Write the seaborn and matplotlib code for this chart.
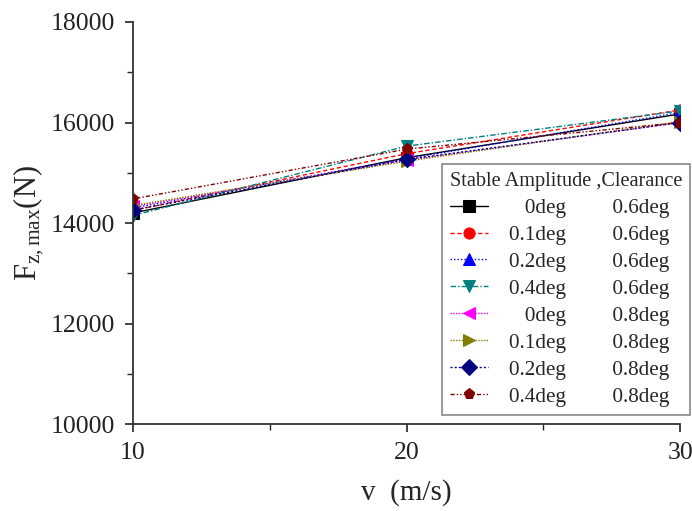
import matplotlib
matplotlib.use("Agg")
import matplotlib.pyplot as plt
from matplotlib.ticker import MultipleLocator
import seaborn as sns
import pandas as pd

speeds = [10, 20, 30]
amplitudes = ["0deg", "0.1deg", "0.2deg", "0.4deg", "0deg", "0.1deg", "0.2deg", "0.4deg"]
clearances = ["0.6deg", "0.6deg", "0.6deg", "0.6deg", "0.8deg", "0.8deg", "0.8deg", "0.8deg"]
s_0_06 = [14200, 15300, 16170]
s_01_06 = [14250, 15380, 16250]
s_02_06 = [14300, 15280, 16200]
s_04_06 = [14150, 15530, 16230]
s_0_08 = [14330, 15250, 16000]
s_01_08 = [14350, 15230, 16020]
s_02_08 = [14260, 15265, 16000]
s_04_08 = [14480, 15470, 16000]
series = [s_0_06, s_01_06, s_02_06, s_04_06, s_0_08, s_01_08, s_02_08, s_04_08]

colors = ["black", "red", "blue", "#008080", "magenta", "#808000", "#000080", "#800000"]
markers = ["s", "o", "^", "v", "<", ">", "D", "p"]
lstyles = ["-", (0, (3, 2)), (0, (1, 1.5)), (0, (4, 1.5, 1, 1.5)), (0, (1, 1)),
           (0, (1, 1)), (0, (1.5, 1.5)), (0, (3, 1.5, 1, 1.5, 1, 1.5))]

sns.set_style("white")
plt.rcParams['font.family'] = ['Liberation Serif', 'DejaVu Serif']
plt.rcParams['mathtext.fontset'] = 'custom'
plt.rcParams['mathtext.rm'] = 'Liberation Serif'
plt.rcParams['mathtext.it'] = 'Liberation Serif'

fig = plt.figure(figsize=(6.92, 5.11), dpi=100)
ax = fig.add_axes([0.192, 0.170, 0.791, 0.787])

rows = []
for i, s in enumerate(series):
    for v, f in zip(speeds, s):
        rows.append({"v": v, "F": f, "id": i})
df = pd.DataFrame(rows)

for i in range(len(series)):
    a, c = amplitudes[i], clearances[i]
    a_txt = ("\u2007\u2008" + a) if a == "0deg" else a
    label = f"{a_txt}\u2003\u2003\u2009{c}"
    sns.lineplot(data=df[df["id"] == i], x="v", y="F", ax=ax, color=colors[i],
                 marker=markers[i], markersize=8, markeredgecolor=colors[i],
                 linestyle=lstyles[i], linewidth=1.0, label=label,
                 errorbar=None)

ax.set_xlim(10, 30)
ax.set_ylim(10000, 18000)
ax.xaxis.set_major_locator(MultipleLocator(10))
ax.xaxis.set_minor_locator(MultipleLocator(5))
ax.yaxis.set_major_locator(MultipleLocator(2000))
ax.yaxis.set_minor_locator(MultipleLocator(1000))
for side in ["top", "right"]:
    ax.spines[side].set_visible(False)
for side in ["left", "bottom"]:
    ax.spines[side].set_color("#333333")
    ax.spines[side].set_linewidth(1.3)
    ax.spines[side].set_clip_on(False)
ax.tick_params(which="major", direction="out", length=6, width=1.2, labelsize=18.5,
               left=True, bottom=True, colors="#222222", pad=7)
ax.tick_params(which="minor", direction="out", length=4, width=1.0,
               left=True, bottom=True, colors="#222222")
ax.set_xlabel("v  (m/s)", fontsize=21, labelpad=11)
ax.set_ylabel(r"F$_{\mathrm{z,max}}$(N)", fontsize=22, labelpad=3)

leg = ax.legend(title="Stable Amplitude ,Clearance", loc="upper left",
                bbox_to_anchor=(442 / 692, 1 - 164 / 511), bbox_transform=fig.transFigure,
                fontsize=15.2, title_fontsize=14.6, frameon=True, fancybox=False,
                edgecolor="#888888", framealpha=1, borderpad=0.38, labelspacing=0.34,
                handlelength=1.8, handletextpad=1.0, borderaxespad=0)
leg.get_frame().set_linewidth(1.2)
leg._legend_box.align = "left"

fig.savefig("out.png", dpi=100)
